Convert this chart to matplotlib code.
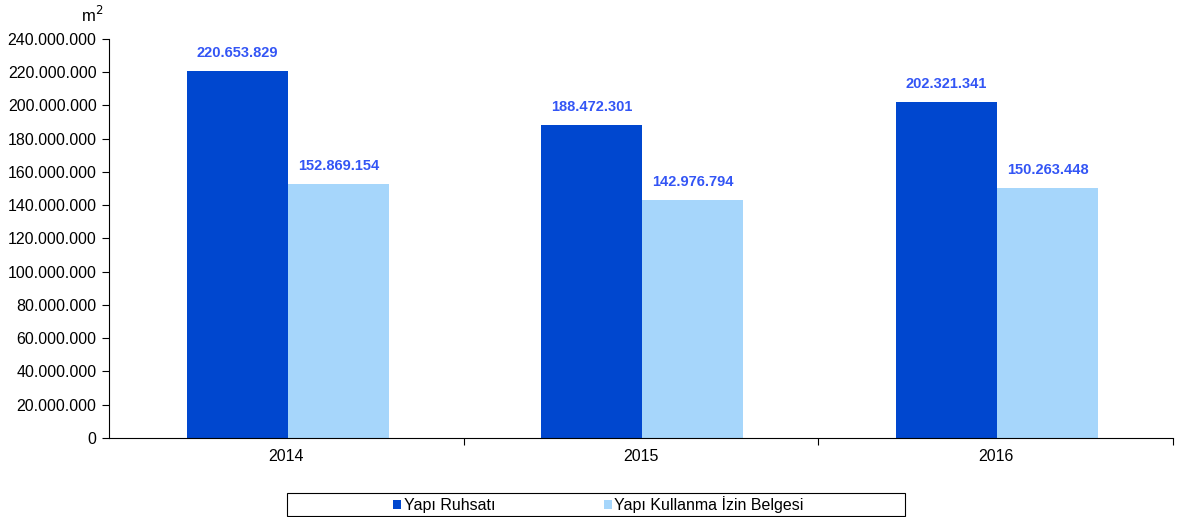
import matplotlib.pyplot as plt
from matplotlib.patches import Rectangle
from matplotlib.ticker import FuncFormatter, FixedLocator
import numpy as np

plt.rcParams['font.family'] = ['Liberation Sans', 'DejaVu Sans']

years = ['2014', '2015', '2016']
yapi_ruhsati = [220653829, 188472301, 202321341]
iskan = [152869154, 142976794, 150263448]
series_names = ['Yapı Ruhsatı', 'Yapı Kullanma İzin Belgesi']

DARK = '#0047CF'
LIGHT = '#A6D6FB'
LABEL = '#3355F5'
FS = 11.5


def dotted(v, pos=None):
    return '{:,.0f}'.format(v).replace(',', '.')


fig = plt.figure(figsize=(11.81, 5.17), dpi=100)
ax = fig.add_axes([0.0923, 0.1528, 0.9009, 0.7718])

x = np.arange(len(years)) + 0.004
w = 0.285
b1 = ax.bar(x - w / 2, yapi_ruhsati, w, color=DARK, label=series_names[0])
b2 = ax.bar(x + w / 2, iskan, w, color=LIGHT, label=series_names[1])

for bars in (b1, b2):
    for r in bars:
        ax.annotate(dotted(r.get_height()),
                    (r.get_x() + r.get_width() / 2, r.get_height()),
                    xytext=(0, 8), textcoords='offset points',
                    ha='center', va='bottom', fontsize=10.5,
                    fontweight='bold', color=LABEL)

ax.set_xlim(-0.5, len(years) - 0.5)
ax.set_ylim(0, 240000000)
ax.set_yticks(np.arange(0, 240000001, 20000000))
ax.yaxis.set_major_formatter(FuncFormatter(dotted))

ax.xaxis.set_major_locator(FixedLocator([0.5, 1.5, 2.5]))
ax.xaxis.set_major_formatter(FuncFormatter(lambda v, p: ''))
ax.set_xticks(np.arange(len(years)), minor=True)
ax.set_xticklabels(years, minor=True)
ax.tick_params(axis='x', which='minor', length=0, pad=8, labelsize=FS)
ax.tick_params(axis='x', which='major', length=5, direction='out')
ax.tick_params(axis='y', length=5, labelsize=FS, pad=4)

for s in ('top', 'right'):
    ax.spines[s].set_visible(False)
for s in ('left', 'bottom'):
    ax.spines[s].set_linewidth(0.8)

fig.text(0.078, 0.972, 'm$^2$', fontsize=12, ha='center', va='center')

# legend box drawn separately so it can be wider than the entries
fig.patches.append(Rectangle((287 / 1181, 1 / 517), 618 / 1181, 23 / 517,
                             transform=fig.transFigure, fill=False,
                             edgecolor='black', linewidth=0.8))
fig.legend(loc='center', bbox_to_anchor=(0.5068, 0.0242), ncol=2,
           frameon=False, handlelength=0.5, handleheight=0.5,
           handletextpad=0.15, columnspacing=6.8, fontsize=FS,
           borderpad=0.0, borderaxespad=0.0)

fig.savefig('out.png', dpi=100)
